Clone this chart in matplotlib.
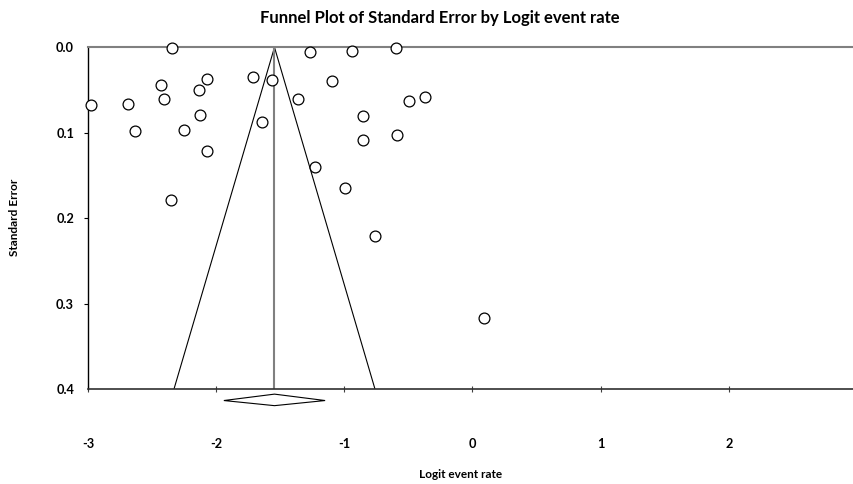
import matplotlib
matplotlib.use("Agg")
import matplotlib.pyplot as plt
from matplotlib.patches import Polygon

plt.rcParams['font.family'] = ['Lato', 'DejaVu Sans']

# Study-level data: logit event rate and standard error
logit = [-2.343, -2.974, -2.686, -2.634, -2.431, -2.408, -2.351, -2.254, -2.135,
         -2.125, -2.072, -2.072, -1.714, -1.641, -1.566, -1.361, -1.264, -1.231,
         -1.096, -0.997, -0.937, -0.851, -0.851, -0.761, -0.597, -0.586, -0.493,
         -0.371, 0.092]
se = [0.001, 0.068, 0.066, 0.098, 0.044, 0.061, 0.179, 0.097, 0.050,
      0.079, 0.037, 0.121, 0.035, 0.088, 0.038, 0.060, 0.006, 0.140,
      0.040, 0.165, 0.004, 0.081, 0.109, 0.221, 0.001, 0.103, 0.063,
      0.058, 0.317]

pooled = -1.545
pooled_lo = -1.94
pooled_hi = -1.15
se_max = 0.4
z = 1.96

x_ticks = [-3, -2, -1, 0, 1, 2, 3]
y_ticks = [0.0, 0.1, 0.2, 0.3, 0.4]

fig = plt.figure(figsize=(8.54, 4.84), dpi=100)
ax = fig.add_axes([88/854, 95/484, (857-88)/854, (389-47.3)/484])

# funnel
ax.plot([pooled - z*se_max, pooled, pooled + z*se_max], [se_max, 0, se_max],
        color='black', lw=0.8, zorder=2)
ax.plot([pooled, pooled], [0, se_max], color='#808080', lw=1.5, zorder=2)

# studies
ax.plot(logit, se, linestyle='none', marker='o', markersize=7.8,
        markerfacecolor='white', markeredgecolor='black', markeredgewidth=0.9,
        zorder=3, clip_on=False)

# pooled diamond below axis
dy_top, dy_mid, dy_bot = 0.006, 0.0135, 0.0195
diamond = Polygon([[pooled_lo, se_max + dy_mid], [pooled, se_max + dy_top],
                   [pooled_hi, se_max + dy_mid], [pooled, se_max + dy_bot]],
                  closed=True, facecolor='white', edgecolor='black', lw=0.8,
                  clip_on=False, zorder=3)
ax.add_patch(diamond)

ax.set_xlim(-3, 3)
ax.set_ylim(0.4, 0.0)
ax.set_xticks(x_ticks)
ax.set_xticklabels([str(t) for t in x_ticks])
ax.set_yticks(y_ticks)
ax.set_yticklabels([f"{t:.1f}" for t in y_ticks])

for lab in ax.get_xticklabels() + ax.get_yticklabels():
    lab.set_fontweight('bold')
    lab.set_fontsize(9.2)

ax.tick_params(axis='x', direction='inout', length=5, width=0.8, pad=33, color='#404040')
ax.tick_params(axis='y', direction='out', length=3, width=0.8, pad=7, color='black')
yt = ax.yaxis.get_major_ticks()
yt[0].tick1line.set_visible(False)
yt[-1].tick1line.set_visible(False)

ax.spines['right'].set_visible(False)
ax.spines['top'].set_color('#808080')
ax.spines['top'].set_linewidth(1.5)
ax.spines['left'].set_color('black')
ax.spines['left'].set_linewidth(1.0)
ax.spines['bottom'].set_color('#303030')
ax.spines['bottom'].set_linewidth(1.2)

fig.text(440/854, 1 - 18/484, "Funnel Plot of Standard Error by Logit event rate",
         ha='center', va='center', fontsize=12, fontweight='bold')
fig.text(461/854, 1 - 474/484, "Logit event rate", ha='center', va='center',
         fontsize=8.5, fontweight='bold')
fig.text(15/854, 1 - 217/484, "Standard Error", ha='center', va='center',
         rotation=90, fontsize=8.5, fontweight='bold')

fig.savefig("out.png", dpi=100)
